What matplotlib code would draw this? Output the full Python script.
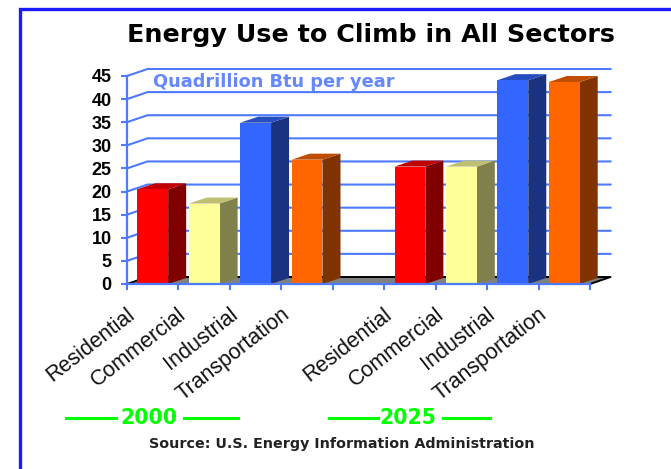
import matplotlib
matplotlib.use("Agg")
import matplotlib.pyplot as plt
from matplotlib.patches import Polygon, Rectangle
from matplotlib.lines import Line2D
from matplotlib.transforms import ScaledTranslation

plt.rcParams['font.family'] = ['Liberation Sans', 'DejaVu Sans']
WIDE = ['DejaVu Sans']

title = "Energy Use to Climb in All Sectors"
unit_label = "Quadrillion Btu per year"
source = "Source: U.S. Energy Information Administration"
sectors = ["Residential", "Commercial", "Industrial", "Transportation"]
years = ["2000", "2025"]
values_2000 = [20.5, 17.4, 34.9, 26.9]
values_2025 = [25.4, 25.4, 44.1, 43.7]
y_ticks = [0, 5, 10, 15, 20, 25, 30, 35, 40, 45]
positions_2000 = [0, 1, 2, 3]
positions_2025 = [5, 6, 7, 8]
front_cols = ["#ff0000", "#ffff99", "#3366ff", "#ff6600"]
side_cols = ["#800000", "#80804d", "#1a3380", "#803300"]
top_cols = ["#c00000", "#bfbf73", "#264dbf", "#bf4d00"]
GRID = "#4d7aff"

W, H = 671, 469
fig = plt.figure(figsize=(W / 100, H / 100), dpi=100, facecolor="white")
ax = fig.add_axes([127 / W, (H - 284) / H, 463 / W, 208 / H])
ax.set_xlim(0, 9)
ax.set_ylim(0, 45)
ax.patch.set_visible(False)

wall_dx, wall_dy = 20.5 / 51.44, 7 / 208 * 45
bar_dx, bar_dy = 18 / 51.44, 6 / 208 * 45
bw = 0.60

for v in y_ticks[1:]:
    ax.plot([0, wall_dx, 9 + wall_dx], [v, v + wall_dy, v + wall_dy], color=GRID,
            lw=1.5, clip_on=False, zorder=1, solid_joinstyle="miter")

ax.add_patch(Polygon([(0, 0), (wall_dx, wall_dy), (9 + wall_dx, wall_dy), (9, 0)],
                     closed=True, fc="#808080", ec="none", clip_on=False, zorder=1.5))
ax.plot([0, wall_dx, 9 + wall_dx, 9], [0, wall_dy, wall_dy, 0], color="black",
        lw=1.4, clip_on=False, zorder=1.6)

def bar3d(pos, val, i):
    x0 = pos + 0.5 - bw / 2
    x1 = x0 + bw
    ax.bar(x0, val, width=bw, align="edge", color=front_cols[i], edgecolor="none",
           zorder=3 + pos * 0.1 + 0.01, clip_on=False)
    ax.add_patch(Polygon([(x1, 0), (x1 + bar_dx, bar_dy), (x1 + bar_dx, val + bar_dy), (x1, val)],
                         closed=True, fc=side_cols[i], ec="none", clip_on=False, zorder=3 + pos * 0.1))
    ax.add_patch(Polygon([(x0, val), (x0 + bar_dx, val + bar_dy), (x1 + bar_dx, val + bar_dy), (x1, val)],
                         closed=True, fc=top_cols[i], ec="none", clip_on=False, zorder=3 + pos * 0.1))

for i, (p, v) in enumerate(zip(positions_2000, values_2000)):
    bar3d(p, v, i)
for i, (p, v) in enumerate(zip(positions_2025, values_2025)):
    bar3d(p, v, i)

for s in ("top", "right"):
    ax.spines[s].set_visible(False)
for s in ("left", "bottom"):
    ax.spines[s].set_color(GRID)
    ax.spines[s].set_linewidth(1.6)
    ax.spines[s].set_zorder(6)
ax.set_yticks(y_ticks)
ax.set_yticklabels([str(v) for v in y_ticks], fontsize=13, fontweight="bold", color="black")
ax.tick_params(axis="y", colors=GRID, labelcolor="black", length=4, width=1.5, pad=7)
ax.set_xticks(range(10))
ax.set_xticklabels([])
ax.tick_params(axis="x", which="major", colors=GRID, length=4, width=1.5)

centers = [p + 0.5 for p in positions_2000 + positions_2025]
ax.set_xticks(centers, sectors + sectors, minor=True, rotation=38, ha="right",
              va="center", rotation_mode="anchor", fontsize=15.5, color="#111111")
ax.tick_params(axis="x", which="minor", length=0, pad=0)
off = ScaledTranslation(-20 / 100, -28 / 100, fig.dpi_scale_trans)
for lab in ax.get_xticklabels(minor=True):
    lab.set_transform(lab.get_transform() + off)

fig.add_artist(Rectangle((19.5 / W, -0.1), W, (H - 9) / H + 0.1, transform=fig.transFigure,
                         fc="none", ec="#1a1aff", lw=2.4, clip_on=True))

fig.text(371 / W, (H - 35) / H, title, ha="center", va="center", fontsize=18.3,
         fontweight="bold", color="black", family=WIDE)
fig.text(153 / W, (H - 82) / H, unit_label, ha="left", va="center", fontsize=12.8,
         fontweight="bold", color="#6688ff", family=WIDE)
fig.text(342 / W, (H - 444) / H, source, ha="center", va="center", fontsize=10.3,
         fontweight="bold", color="#222222", family=WIDE)

GREEN = "#00ff00"
fig.text(149 / W, (H - 418) / H, years[0], ha="center", va="center", fontsize=14.8,
         fontweight="bold", color=GREEN, family=WIDE)
fig.text(408 / W, (H - 418) / H, years[1], ha="center", va="center", fontsize=14.8,
         fontweight="bold", color=GREEN, family=WIDE)
for a, b in [(66, 116), (184, 238), (329, 378), (443, 490)]:
    fig.add_artist(Line2D([a / W, b / W], [(H - 418) / H] * 2, color=GREEN, lw=2.2,
                          transform=fig.transFigure))

fig.savefig("out.png", dpi=100, facecolor="white")
